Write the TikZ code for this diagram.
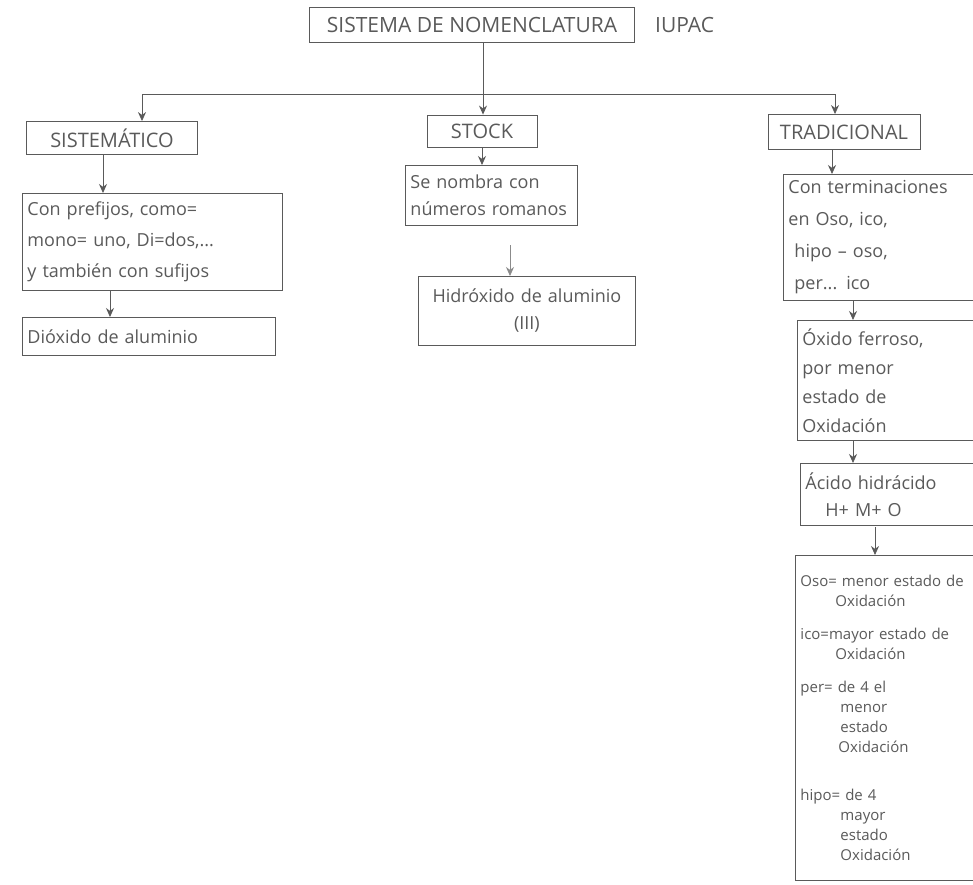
\documentclass[tikz,border=0pt]{standalone}
\usepackage{fontspec}
\setmainfont{Open Sans}
\usetikzlibrary{arrows.meta}
\definecolor{pencil}{HTML}{5A5A5A}
\tikzset{
  box/.style={draw=pencil, line width=0.9pt, rectangle, text=pencil, inner sep=5pt},
  head/.style={font=\fontsize{20}{24}\selectfont},
  big/.style={font=\fontsize{18}{31}\selectfont},
  mid/.style={font=\fontsize{15}{20}\selectfont},
  conn/.style={draw=pencil, line width=0.8pt},
  arr/.style={conn, -{Stealth[length=9pt,width=8pt]}},
  lbl/.style={text=pencil, inner sep=0pt}
}
\begin{document}
\begin{tikzpicture}[x=1pt,y=-1pt]
\useasboundingbox (0,0) rectangle (973,884);
\clip (0,0) rectangle (973,884);
\fill[white] (0,0) rectangle (973,884);

% title
\node[box, head, minimum width=325pt, minimum height=35pt, font=\fontsize{21}{25}\selectfont] (title) at (472,25) {SISTEMA DE NOMENCLATURA};
\node[lbl, anchor=west, font=\fontsize{21}{25}\selectfont] (iupac) at (655,25) {IUPAC};

% level 1
\node[box, head, minimum width=171pt, minimum height=33pt] (sis) at (112,138) {SISTEMÁTICO};
\node[box, head, minimum width=110pt, minimum height=32pt] (stock) at (482,131) {STOCK};
\node[box, head, minimum width=152pt, minimum height=35pt] (trad) at (844,132) {TRADICIONAL};

\coordinate (jc) at (483,92);
\coordinate (jl) at (142,94);
\coordinate (jr) at (835,94);
\draw[conn] (title.south -| jc) -- (jc);
\draw[conn] (jl) -- (jr);
\draw[arr] (jl) -- (jl |- sis.north);
\draw[arr] (jc) -- (jc |- stock.north);
\draw[arr] (jr) -- (jr |- trad.north);

% sistematico branch
\node[box, big, anchor=north west, text width=250pt, minimum height=97pt, align=left] (pref) at (22,193)
  {Con prefijos, como=\\mono= uno, Di=dos,...\\y también con sufijos};
\node[box, big, anchor=north west, text width=243pt, minimum height=38pt, align=left] (diox) at (22,317)
  {Dióxido de aluminio};
\draw[arr] ([xshift=-9pt]sis.south) -- ([xshift=-9pt]sis.south |- pref.north);
\draw[arr] (110,290) coordinate (a1) -- (a1 |- diox.north);

% stock branch
\node[box, big, anchor=north west, text width=162pt, minimum height=60pt, align=left, font=\fontsize{18}{27}\selectfont] (rom) at (405,165)
  {Se nombra con\\números romanos};
\node[box, big, anchor=north west, text width=207pt, minimum height=69pt, align=center, font=\fontsize{18}{27}\selectfont] (hidr) at (418,276)
  {Hidróxido de aluminio\\(III)};
\draw[arr] (stock.south) -- (stock.south |- rom.north);
\coordinate (a2) at (510,245);
\draw[arr, draw=pencil!70] (a2) -- (a2 |- hidr.north);

% tradicional branch
\node[box, big, anchor=north west, text width=230pt, minimum height=126pt, align=left, font=\fontsize{18}{32}\selectfont] (term) at (783,174)
  {Con terminaciones\\en Oso, ico,\\\hspace*{6pt}hipo -- oso,\\\hspace*{6pt}per... ico};
\node[box, big, anchor=north west, text width=230pt, minimum height=120pt, align=left, font=\fontsize{18}{29}\selectfont] (oxf) at (797,320)
  {Óxido ferroso,\\por menor\\estado de\\Oxidación};
\node[box, big, anchor=north west, text width=230pt, minimum height=62pt, align=left, font=\fontsize{18}{27}\selectfont] (acid) at (800,463)
  {Ácido hidrácido\\\hspace*{20pt}H+ M+ O};
\node[box, mid, anchor=north west, text width=230pt, minimum height=325pt, align=left, inner sep=5pt] (def) at (795,555)
  {Oso= menor estado de\\\hspace*{35pt}Oxidación\\[13pt]
   ico=mayor estado de\\\hspace*{35pt}Oxidación\\[13pt]
   per= de 4 el\\\hspace*{40pt}menor\\\hspace*{40pt}estado\\\hspace*{38pt}Oxidación\\[28pt]
   hipo= de 4\\\hspace*{40pt}mayor\\\hspace*{40pt}estado\\\hspace*{40pt}Oxidación};

\draw[arr] (trad.south -| 832,0) -- (832,174);
\coordinate (a3) at (853,300);
\draw[arr] (a3) -- (a3 |- oxf.north);
\coordinate (a4) at (853,441);
\draw[arr] (a4) -- (a4 |- acid.north);
\coordinate (a5) at (875,527);
\draw[arr] (a5) -- (a5 |- def.north);
\end{tikzpicture}
\end{document}
